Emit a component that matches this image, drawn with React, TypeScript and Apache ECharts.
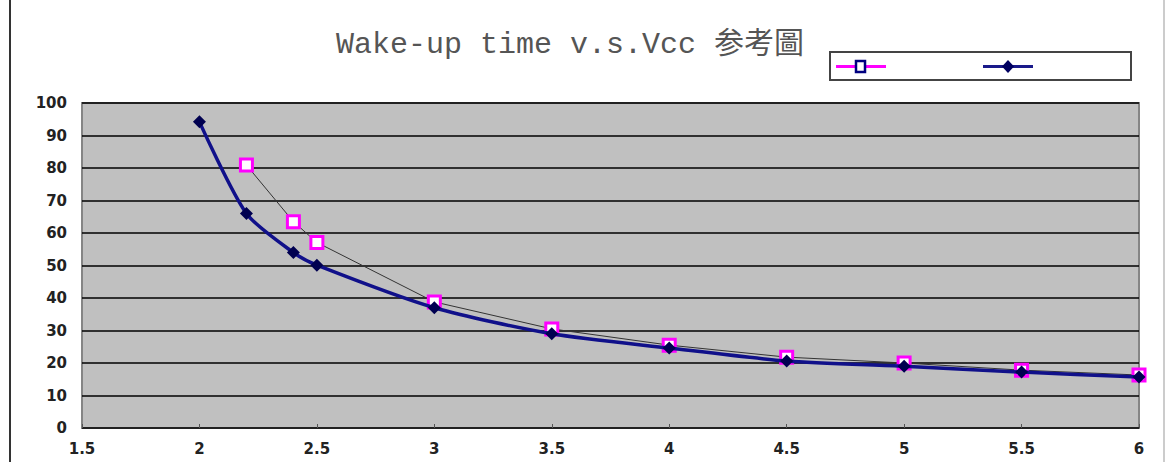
import React, { useEffect, useRef } from "react";
import * as echarts from "echarts";

const titleText = "Wake-up time v.s.Vcc 参考圖";
const pinkX = [2.2, 2.4, 2.5, 3, 3.5, 4, 4.5, 5, 5.5, 6];
const pinkY = [80.9, 63.5, 57.1, 38.8, 30.5, 25.5, 21.8, 20.0, 17.8, 16.3];
const blueX = [2, 2.2, 2.4, 2.5, 3, 3.5, 4, 4.5, 5, 5.5, 6];
const blueY = [94.2, 66.0, 54.0, 50.1, 37.0, 29.0, 24.6, 20.6, 19.0, 17.2, 15.7];

export default function App() {
  const ref = useRef<HTMLDivElement>(null);
  useEffect(() => {
    const chart = echarts.init(ref.current!, null, { renderer: "svg" });
    const labelFont = { color: "#222", fontSize: 15, fontWeight: "bold", fontFamily: "DejaVu Sans, sans-serif" };
    chart.setOption({
      animation: false,
      backgroundColor: "#fff",
      grid: { left: 82, top: 103, right: 32, bottom: 34, show: true, backgroundColor: "#c0c0c0", borderColor: "#858585", borderWidth: 2 },
      xAxis: {
        type: "value", min: 1.5, max: 6, interval: 0.5,
        axisLine: { show: false },
        axisTick: { show: true, inside: true, length: 4, lineStyle: { color: "#555" } },
        splitLine: { show: false },
        axisLabel: { ...labelFont, margin: 13 },
      },
      yAxis: {
        type: "value", min: 0, max: 100, interval: 10,
        axisLine: { show: false },
        axisTick: { show: false },
        splitLine: { show: true, lineStyle: { color: "#000", width: 1.5 } },
        axisLabel: { ...labelFont, margin: 15 },
      },
      graphic: [
        { type: "line", shape: { x1: 10, y1: 0, x2: 10, y2: 462 }, style: { stroke: "#333", lineWidth: 2 } },
        { type: "line", shape: { x1: 1164, y1: 0, x2: 1164, y2: 462 }, style: { stroke: "#ccc", lineWidth: 2 } },
        { type: "text", left: 336, top: 30, style: { text: titleText, fill: "#555", font: "30px 'Liberation Mono', 'Noto Sans CJK TC', monospace" } },
        { type: "rect", shape: { x: 830, y: 52, width: 301, height: 28 }, style: { fill: "#fff", stroke: "#444", lineWidth: 2 } },
        { type: "line", shape: { x1: 836, y1: 66.5, x2: 886, y2: 66.5 }, style: { stroke: "#ff00ff", lineWidth: 3 } },
        { type: "rect", shape: { x: 856, y: 61, width: 9, height: 11 }, style: { fill: "#fff", stroke: "#000080", lineWidth: 2.5 } },
        { type: "line", shape: { x1: 983, y1: 66.5, x2: 1033, y2: 66.5 }, style: { stroke: "#1a1a8a", lineWidth: 3 } },
        { type: "polygon", shape: { points: [[1008, 60], [1014, 66.5], [1008, 73], [1002, 66.5]] }, style: { fill: "#000060" } },
      ],
      series: [
        {
          type: "line", name: "pink",
          data: pinkX.map((x, i) => [x, pinkY[i]]),
          lineStyle: { color: "#333", width: 1 },
          symbol: "rect", symbolSize: 12,
          itemStyle: { color: "#fff", borderColor: "#ff00ff", borderWidth: 3 },
          z: 2,
        },
        {
          type: "line", name: "blue",
          data: blueX.map((x, i) => [x, blueY[i]]),
          smooth: 0.25,
          lineStyle: { color: "#10108a", width: 3.5 },
          symbol: "diamond", symbolSize: 13,
          itemStyle: { color: "#000050" },
          z: 3,
        },
      ],
    });
    return () => chart.dispose();
  }, []);
  return <div ref={ref} style={{ position: "fixed", left: 0, top: 0, width: 1171, height: 462 }} />;
}
